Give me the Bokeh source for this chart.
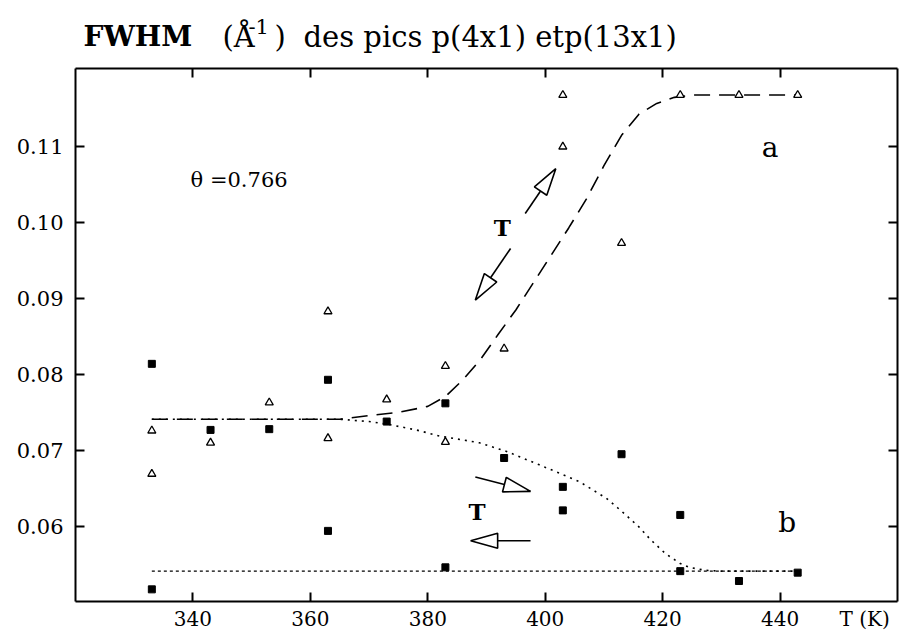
import numpy as np
from bokeh.plotting import figure
from bokeh.layouts import column
from bokeh.models import (Range1d, LinearAxis, FixedTicker, PrintfTickFormatter,
                          CustomJSTickFormatter, Label)
from bokeh.core.properties import value
from bokeh.embed import file_html
from bokeh.resources import INLINE

# ---------------- data ----------------
tri_T = [333, 333, 343, 353, 363, 363, 373, 383, 383, 393, 403, 403, 413, 423, 433, 443]
tri_fwhm = [0.0726, 0.0669, 0.0710, 0.0763, 0.0883, 0.0716, 0.0767, 0.0811, 0.0711,
            0.0834, 0.1168, 0.1100, 0.0973, 0.1168, 0.1168, 0.1168]

sq_T = [333, 333, 343, 353, 363, 363, 373, 383, 383, 393, 403, 403, 413, 423, 423, 433, 443]
sq_fwhm = [0.0814, 0.0517, 0.0727, 0.0728, 0.0793, 0.0594, 0.0738, 0.0762, 0.0546,
           0.0690, 0.0652, 0.0621, 0.0695, 0.0615, 0.0541, 0.0528, 0.0539]

fit_a_T = [333, 365, 370, 375, 380, 383, 386, 389, 392, 395, 398, 401, 404, 407,
           410, 413, 416, 419, 422, 425, 443]
fit_a_fwhm = [0.0741, 0.0741, 0.0746, 0.0750, 0.0758, 0.0771, 0.0793, 0.0820, 0.0853,
              0.0885, 0.0921, 0.0957, 0.0993, 0.1031, 0.1075, 0.1115, 0.1143, 0.1157,
              0.1165, 0.1168, 0.1168]

fit_b_T = [333, 365, 370, 373.5, 378, 382, 388.8, 393.3, 399, 405.8, 410.4, 413, 416,
           418, 420.5, 423, 424.5, 427.3, 430, 443]
fit_b_fwhm = [0.0741, 0.0741, 0.0738, 0.0734, 0.0727, 0.0719, 0.0710, 0.0699, 0.0681,
              0.0659, 0.0637, 0.0620, 0.0599, 0.0582, 0.0564, 0.0551, 0.0546, 0.0542,
              0.0541, 0.0541]

base_T = [333, 443]
base_fwhm = [0.0541, 0.0541]

x_ticks = [340, 360, 380, 400, 420, 440]
y_ticks = [0.06, 0.07, 0.08, 0.09, 0.10, 0.11]
x_unit_pos = 454.4
x_unit_label = "T (K)"

# ---------------- geometry ----------------
X0, X1 = 320, 460
Y0, Y1 = 0.0501, 0.1203
FW, FH = 822, 533
LEFT, RIGHT = 75, 4
TITLE_H = 62
SERIF = "DejaVu Serif"

# ---------------- title strip (x in page pixels) ----------------
t = figure(title=None, frame_width=FW, frame_height=TITLE_H,
           x_range=Range1d(LEFT, LEFT + FW), y_range=Range1d(0, TITLE_H),
           output_backend="svg", toolbar_location=None,
           min_border_left=LEFT, min_border_right=RIGHT,
           min_border_top=0, min_border_bottom=0, outline_line_color=None,
           background_fill_color="white", border_fill_color="white")
t.axis.visible = False
t.grid.visible = False

def ttext(x, y_from_top, txt, size, bold=False):
    t.text(x=[x], y=[TITLE_H - y_from_top], text=[txt], text_font=value(SERIF),
           text_font_size=size, text_font_style="bold" if bold else "normal",
           text_align="left", text_baseline="alphabetic", text_color="black")

BASE = 36
ttext(83, BASE, "FWHM", "28px", bold=True)
ttext(222, BASE, "(Å", "29px")
ttext(248, BASE - 10, "-1", "21px")
ttext(274, BASE, ")", "29px")
ttext(303, BASE, "des pics p(4x1) etp(13x1)", "29px")

# ---------------- main figure ----------------
p = figure(title=None, frame_width=FW, frame_height=FH,
           x_range=Range1d(X0, X1), y_range=Range1d(Y0, Y1),
           output_backend="svg", toolbar_location=None,
           min_border_left=LEFT, min_border_top=68 - TITLE_H, min_border_right=RIGHT,
           min_border_bottom=30, outline_line_color=None,
           background_fill_color="white", border_fill_color="white")
p.xgrid.visible = False
p.ygrid.visible = False

def base_style(ax):
    ax.axis_line_width = 2
    ax.axis_line_color = "black"
    ax.major_tick_in = 9
    ax.major_tick_out = 0
    ax.major_tick_line_width = 2
    ax.major_tick_line_color = "black"
    ax.minor_tick_line_color = None
    ax.major_label_text_font = SERIF
    ax.major_label_text_font_size = "20px"
    ax.major_label_text_color = "black"

# bottom axis: tick marks drawn as "minor" ticks, labels (incl. unit) as major
xa = p.xaxis[0]
base_style(xa)
xa.ticker = FixedTicker(ticks=x_ticks + [x_unit_pos], minor_ticks=x_ticks)
xa.formatter = PrintfTickFormatter(format="%d")
xa.major_label_overrides = {x_unit_pos: x_unit_label}
xa.major_tick_line_color = None
xa.minor_tick_line_color = "black"
xa.minor_tick_line_width = 2
xa.minor_tick_in = 9
xa.minor_tick_out = 0
xa.major_label_standoff = 5

ya = p.yaxis[0]
base_style(ya)
ya.ticker = FixedTicker(ticks=y_ticks)
ya.formatter = PrintfTickFormatter(format="%.2f")
ya.major_label_standoff = 12
ya.major_label_text_font_size = "21px"

for ticks, place in ((x_ticks, "above"), (y_ticks, "right")):
    ax = LinearAxis()
    base_style(ax)
    ax.ticker = FixedTicker(ticks=ticks)
    ax.formatter = CustomJSTickFormatter(code="return ''")
    ax.major_label_standoff = 0
    ax.major_label_text_font_size = "1px"
    p.add_layout(ax, place)

# ---------------- curves ----------------
p.line(fit_a_T, fit_a_fwhm, line_color="black", line_width=1.6, line_dash="16 9")
p.line(fit_b_T, fit_b_fwhm, line_color="black", line_width=1.6, line_dash="2 5")
p.line(base_T, base_fwhm, line_color="black", line_width=1.4, line_dash="3 3")

# ---------------- points ----------------
p.scatter(tri_T, tri_fwhm, marker="triangle", size=8, fill_color="white",
          line_color="black", line_width=1.3)
p.scatter(sq_T, sq_fwhm, marker="square", size=7, fill_color="black",
          line_color="black")

# ---------------- arrows ----------------
sx = FW / (X1 - X0)
sy = FH / (Y1 - Y0)

def arrow(x0, y0, x1, y1, L=27, W=15):
    dx = (x1 - x0) * sx
    dy = (y1 - y0) * sy
    n = np.hypot(dx, dy)
    ux, uy = dx / n, dy / n
    tx, ty = x1 * sx, y1 * sy
    bx, by = tx - ux * L, ty - uy * L
    nx, ny = -uy, ux
    xs = [tx / sx, (bx + nx * W / 2) / sx, (bx - nx * W / 2) / sx]
    ys = [ty / sy, (by + ny * W / 2) / sy, (by - ny * W / 2) / sy]
    p.line([x0, bx / sx], [y0, by / sy], line_color="black", line_width=1.6)
    p.patch(xs, ys, fill_color="white", line_color="black", line_width=1.6)

arrow(396.6, 0.1012, 401.8, 0.1071)
arrow(394.1, 0.0966, 388.1, 0.0898)
arrow(388.1, 0.0665, 397.5, 0.0646)
arrow(397.5, 0.0581, 387.3, 0.0581)

# ---------------- texts inside the frame ----------------
def lab(x, y, text, size, bold=False, align="center", baseline="middle"):
    p.add_layout(Label(x=x, y=y, text=text, text_font=SERIF, text_font_size=size,
                       text_font_style="bold" if bold else "normal",
                       text_align=align, text_baseline=baseline, text_color="black"))

lab(392.7, 0.0994, "T", "23px", bold=True)
lab(388.4, 0.0619, "T", "23px", bold=True)
lab(438.3, 0.1099, "a", "28px")
lab(441.2, 0.0605, "b", "28px")
lab(339.6, 0.1056, "θ =0.766", "21px", align="left")

layout = column(t, p, spacing=0)
open("out.html", "w").write(file_html(layout, INLINE))
